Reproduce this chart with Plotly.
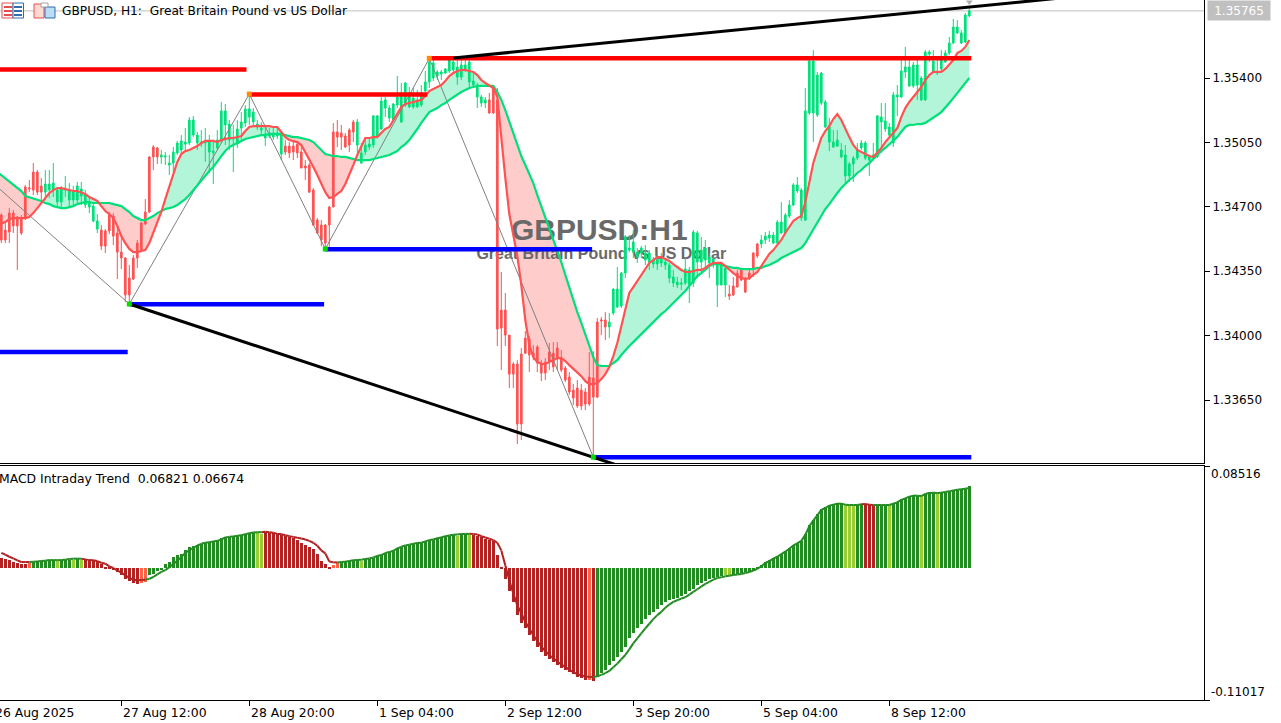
import plotly.graph_objects as go

# ---------- data: candle prices in MT5 points (1e-5), one per hourly bar ----------
body_top = [134655,134574,134666,134666,134645,134639,134808,134802,134889,134889,
134813,134824,134824,134829,134791,134802,134802,134791,134780,134813,
134797,134764,134726,134704,134623,134574,134569,134655,134650,134558,
134454,134422,134313,134422,134503,134612,134672,134971,135025,135020,
134982,134976,134938,134998,135047,135058,135052,135172,135172,135090,
135052,135052,135058,135003,135063,135221,135221,135150,135074,135123,
135161,135232,135232,135215,135150,135128,135096,135096,135096,135101,
135101,135030,135030,135030,135041,134998,134922,134927,134791,134628,
134601,134601,134699,135107,135107,135101,135085,135117,135161,135161,
134993,135036,135041,135194,135194,135275,135281,135237,135259,135297,
135319,135373,135319,135291,135281,135319,135378,135487,135482,135433,
135433,135449,135498,135487,135460,135471,135471,135487,135384,135362,
135297,135281,135281,135346,135281,134139,134139,134003,133846,133846,
133900,133987,133982,133905,133938,133851,133856,133911,133905,133933,
133878,133824,133775,133704,133715,133704,133694,133775,133770,134074,
134085,134085,134074,134253,134253,134340,134536,134476,134509,134454,
134476,134449,134449,134411,134416,134416,134400,134384,134319,134291,
134286,134362,134357,134563,134558,134465,134476,134427,134416,134395,
134395,134368,134226,134270,134340,134357,134308,134340,134449,134498,
134520,134541,134547,134547,134617,134617,134655,134710,134819,134819,
134791,135221,135492,135492,135416,135427,135270,135134,135052,135063,
135009,134982,134933,134965,135009,135047,135047,134971,134982,135194,
135188,135167,135134,135308,135308,135438,135460,135460,135471,135471,
135400,135541,135541,135492,135433,135498,135536,135590,135677,135677,
135645,135742,135765]
body_bottom = [134520,134520,134563,134596,134596,134558,134639,134797,134791,134780,
134780,134780,134791,134791,134726,134726,134791,134737,134737,134737,
134759,134710,134699,134623,134579,134487,134487,134569,134541,134454,
134422,134221,134221,134308,134422,134465,134607,134672,134971,134971,
134971,134971,134927,134938,134993,135009,135041,135047,135090,135047,
135041,135047,134998,134993,135020,135063,135145,135063,135069,135041,
135128,135156,135188,135161,135134,135117,135074,135085,135079,135085,
134987,134998,134993,134998,134993,134911,134911,134780,134601,134558,
134520,134503,134601,134699,135079,135079,135025,135036,135107,135036,
134938,134998,135025,135036,135079,135123,135237,135183,135172,135253,
135161,135253,135243,135243,135243,135253,135329,135378,135400,135411,
135422,135427,135438,135444,135405,135405,135444,135378,135362,135297,
135264,135264,135210,135210,134036,134041,134003,133791,133791,133520,
133520,133905,133895,133889,133851,133797,133797,133856,133830,133873,
133813,133759,133694,133661,133618,133618,133628,133628,133666,133666,
134079,134047,134047,134123,134155,134161,134340,134465,134454,134427,
134449,134411,134400,134389,134389,134395,134384,134313,134286,134275,
134280,134286,134275,134286,134400,134400,134411,134395,134384,134275,
134275,134275,134215,134221,134264,134302,134237,134308,134362,134433,
134498,134520,134531,134503,134503,134558,134558,134650,134710,134786,
134639,134628,135210,135210,135199,135264,135134,135052,135025,135030,
134971,134868,134868,134933,134965,135020,134965,134954,134971,134971,
135161,135123,135090,135047,135297,135297,135433,135357,135357,135362,
135281,135281,135530,135433,135427,135449,135487,135536,135590,135645,
135590,135596,135737]
high = [134666,134617,134693,134683,134650,134655,134819,134846,134938,134900,
134857,134900,134900,134938,134808,134813,134868,134829,134813,134835,
134835,134791,134748,134715,134661,134601,134580,134672,134666,134590,
134547,134427,134384,134438,134520,134617,134742,134976,135036,135025,
135009,134998,134982,135025,135058,135090,135128,135188,135194,135107,
135117,135128,135090,135063,135117,135270,135259,135172,135145,135172,
135215,135253,135313,135237,135172,135161,135145,135128,135134,135134,
135107,135063,135052,135063,135058,135030,134954,134938,134802,134639,
134628,134607,134704,135155,135172,135145,135101,135128,135172,135177,
135047,135074,135074,135199,135199,135297,135297,135253,135264,135411,
135373,135378,135351,135346,135335,135362,135438,135503,135498,135444,
135444,135454,135503,135509,135498,135498,135498,135498,135427,135373,
135308,135297,135319,135357,135346,134346,134232,134003,133856,133867,
133933,134025,133998,133949,133949,133867,133878,133960,133965,133965,
133922,133835,133802,133737,133759,133737,133715,133911,133916,134096,
134101,134128,134123,134258,134373,134346,134547,134547,134574,134476,
134487,134492,134465,134427,134438,134449,134422,134395,134357,134319,
134313,134422,134373,134574,134569,134536,134520,134449,134427,134400,
134400,134373,134275,134319,134357,134368,134319,134357,134454,134503,
134547,134563,134569,134563,134628,134726,134666,134737,134829,134862,
134802,135346,135498,135552,135433,135433,135281,135183,135117,135117,
135047,135036,134944,134976,135047,135063,135058,134982,135047,135199,
135264,135264,135156,135324,135362,135498,135569,135498,135487,135498,
135411,135552,135552,135552,135498,135552,135552,135623,135721,135715,
135661,135753,135780]
low = [134503,134503,134503,134558,134357,134547,134628,134780,134764,134764,
134737,134737,134748,134753,134693,134693,134753,134704,134710,134721,
134710,134693,134666,134617,134558,134465,134449,134552,134492,134308,
134362,134183,134172,134302,134368,134454,134601,134666,134900,134933,
134933,134927,134873,134889,134982,134982,135009,135036,135079,135009,
135025,134944,134884,134824,135009,135047,135036,135009,134889,135020,
135063,135134,135145,135139,135117,135085,135030,135074,135063,135069,
134954,134982,134965,134954,134965,134911,134846,134775,134596,134552,
134487,134471,134482,134699,135025,135009,135020,134998,135052,134993,
134933,134982,135009,135020,135074,135117,135188,135161,135161,135237,
135156,135243,135237,135232,135237,135243,135324,135346,135384,135389,
135389,135422,135427,135433,135362,135389,135433,135351,135351,135237,
135243,135237,135205,135205,133944,133813,133944,133715,133715,133411,
133433,133900,133802,133867,133802,133753,133759,133813,133802,133813,
133802,133748,133678,133623,133607,133596,133596,133618,133340,133661,
134003,133976,133987,134112,134155,134150,134313,134454,134422,134395,
134422,134384,134357,134368,134357,134373,134357,134286,134264,134259,
134248,134275,134177,134264,134313,134346,134357,134313,134368,134155,
134275,134210,134194,134215,134264,134297,134232,134302,134319,134422,
134476,134498,134509,134498,134498,134552,134552,134639,134704,134775,
134623,134623,135199,135052,135188,135253,135128,135003,135020,135025,
134965,134830,134835,134835,134954,135009,134954,134868,134954,134965,
134993,135107,135085,135025,135194,135291,135400,135351,135346,135281,
135275,135275,135487,135427,135416,135438,135482,135525,135585,135639,
135585,135590,135732]

# indicator lines on the price pane, points (first value belongs to the bar just off the left edge)
fast_line = [134600,134607,134617,134634,134639,134639,134639,134639,134645,134666,134693,
134721,134753,134775,134791,134802,134802,134797,134791,134786,134786,
134780,134770,134753,134742,134732,134704,134677,134661,134639,134596,
134541,134503,134471,134454,134454,134460,134465,134503,134558,134617,
134672,134742,134813,134884,134944,134987,135003,135009,135020,135030,
135047,135058,135058,135058,135052,135063,135069,135074,135074,135079,
135085,135112,135134,135139,135139,135139,135139,135139,135134,135134,
135107,135079,135063,135058,135052,135036,134998,134954,134916,134873,
134829,134780,134748,134753,134770,134786,134824,134873,134927,134982,
135030,135074,135074,135079,135079,135101,135123,135134,135172,135210,
135243,135259,135264,135270,135275,135281,135302,135329,135340,135351,
135362,135384,135411,135427,135438,135444,135444,135438,135433,135416,
135389,135373,135357,135346,135297,135063,134857,134661,134547,134433,
134275,134085,133949,133884,133856,133846,133846,133856,133867,133878,
133878,133862,133840,133819,133797,133780,133753,133737,133737,133743,
133764,133791,133830,133889,133960,134047,134150,134232,134264,134297,
134330,134368,134395,134411,134427,134427,134416,134406,134389,134373,
134357,134346,134346,134351,134357,134357,134368,134384,134395,134395,
134395,134378,134357,134340,134324,134313,134308,134313,134330,134346,
134378,134411,134444,134465,134492,134520,134558,134590,134623,134639,
134650,134726,134829,134938,135009,135074,135112,135139,135177,135204,
135172,135123,135079,135036,135009,134998,134987,134976,134971,134993,
135020,135052,135079,135107,135128,135188,135237,135270,135297,135319,
135351,135389,135416,135433,135433,135433,135449,135471,135498,135536,
135547,135569,135607]
slow_line = [134890,134873,134857,134840,134824,134808,134786,134759,134753,134748,134742,
134732,134721,134715,134704,134699,134693,134693,134699,134704,134715,
134721,134726,134726,134721,134721,134721,134721,134721,134715,134710,
134704,134688,134672,134650,134639,134628,134628,134639,134650,134666,
134677,134688,134693,134699,134710,134726,134742,134764,134791,134819,
134840,134868,134895,134916,134949,134976,135003,135025,135036,135047,
135058,135069,135074,135079,135085,135090,135090,135096,135096,135096,
135096,135090,135085,135079,135079,135074,135069,135063,135052,135030,
135009,134987,134982,134976,134976,134971,134971,134965,134960,134954,
134954,134954,134954,134960,134965,134971,134976,134982,134993,135003,
135025,135041,135063,135090,135123,135156,135188,135215,135226,135237,
135253,135264,135281,135297,135308,135324,135335,135346,135351,135357,
135357,135357,135357,135357,135324,135281,135226,135161,135101,135036,
134976,134927,134878,134829,134764,134704,134639,134574,134520,134465,
134400,134330,134259,134194,134128,134069,134003,133944,133884,133840,
133835,133835,133835,133851,133867,133895,133922,133944,133965,133987,
134009,134031,134052,134074,134096,134117,134134,134155,134177,134199,
134221,134243,134270,134297,134324,134340,134357,134378,134389,134389,
134384,134378,134373,134368,134368,134362,134362,134362,134362,134368,
134368,134378,134384,134395,134406,134422,134433,134444,134454,134465,
134476,134503,134541,134580,134617,134655,134688,134715,134748,134775,
134802,134824,134846,134862,134884,134900,134922,134938,134960,134982,
135003,135020,135041,135063,135079,135107,135134,135145,135145,135150,
135150,135156,135172,135183,135199,135215,135237,135264,135291,135319,
135346,135373,135400]

# candle colour follows the trend state: (state, run length)
candle_runs = [("R",11),("G",14),("R",15),("G",31),("R",18),("G",33),("R",30),("G",30),("R",8),("G",53)]

# MACD histogram and signal line, units of 1e-4
macd_hist = [86,78,64,50,42,33,33,42,53,55,
58,61,64,69,58,66,66,66,64,75,
64,72,66,64,58,33,11,8,-19,-33,
-55,-94,-111,-125,-133,-122,-116,-61,-47,-28,
-11,36,50,91,105,119,147,175,188,194,
202,211,216,222,227,249,260,263,266,271,
277,285,291,294,291,285,299,296,294,285,
277,269,260,252,238,211,194,172,161,119,
55,33,8,22,44,53,55,58,64,66,
58,72,78,86,100,111,127,133,144,166,
177,188,194,202,208,211,222,233,238,249,
255,266,271,277,266,283,285,277,277,266,
255,244,238,222,105,8,
-94,-194,-283,-393,-463,-504,-560,-609,-656,-698,
-731,-759,-781,-809,-831,-850,-864,-886,-909,-920,
-933,-933,-942,-906,-878,-850,-809,-776,-740,-698,
-656,-587,-540,-504,-471,-429,-393,-366,-338,-310,
-283,-269,-255,-249,-233,-213,-194,-172,-144,-125,
-108,-94,-83,-75,-66,-61,-61,-55,-47,-42,
-36,-30,-25,8,22,50,64,83,100,119,
139,166,194,211,227,285,360,404,452,493,
507,526,532,543,543,526,526,526,529,532,
535,526,526,526,526,526,526,543,554,576,
587,598,609,604,598,620,632,632,626,632,
637,643,654,654,659,659,682]
macd_signal = [127,111,94,80,64,50,50,50,53,55,
58,61,66,66,66,66,69,75,78,78,
78,72,66,64,58,44,36,14,0,-19,
-39,-61,-83,-97,-102,-100,-97,-91,-75,-53,
-33,-17,6,33,61,91,127,147,169,188,
202,211,216,222,227,238,255,260,263,269,
274,283,291,296,299,299,302,299,294,285,
283,274,266,260,252,247,238,227,211,186,
147,122,55,47,47,50,53,58,64,66,
69,75,80,89,100,108,125,133,144,163,
177,188,194,202,208,211,222,233,238,249,
255,266,271,277,280,283,285,285,285,280,
266,255,244,233,211,147,22,-102,-213,-310,
-379,-449,-504,-560,-609,-656,-693,-726,-753,-781,
-803,-825,-848,-870,-886,-897,-903,-909,-909,-903,
-892,-878,-859,-828,-798,-762,-726,-679,-629,-587,
-546,-504,-465,-427,-393,-366,-332,-305,-283,-269,
-255,-244,-222,-199,-177,-155,-133,-116,-97,-83,
-78,-69,-64,-58,-55,-50,-42,-33,-22,-6,
14,42,58,78,94,116,136,161,188,205,
227,277,349,396,440,485,501,521,529,537,
537,529,526,526,526,532,535,529,526,526,
526,526,526,537,548,568,582,596,604,604,
601,618,626,629,626,629,634,640,648,654,
657,662,667]
# histogram colour state per bar: (state, run length)
macd_runs = [("R",7),("T",1),("G",6),("Y",1),("G",3),("Y",1),("G",1),("Y",1),("R",14),("T",2),
("G",27),("Y",2),("R",17),("T",2),("G",5),("Y",1),("G",23),("Y",1),("G",2),("Y",1),
("R",29),("T",1),("R",1),("G",32),("Y",2),("G",28),("Y",3),("G",2),("R",3),("G",3),
("Y",1),("G",7),("Y",1),("G",3),("Y",1),("G",8)]

# support / resistance segments: bar index from, bar index to, price in points
res_from = [-1, 62, 107]
res_to = [61.3, 106.5, 242.5]
res_price = [135447, 135311, 135507]
sup_from = [-1, 32, 81, 148]
sup_to = [31.6, 80.7, 147.7, 242.5]
sup_price = [133911, 134170, 134469, 133339]
zigzag_bar = [-1, 32, 62, 81, 107, 148]
zigzag_price = [134808, 134172, 135313, 134471, 135507, 133340]
trend_low_bar = [32, 160]
trend_low_price = [134172, 133253]
trend_high_bar = [113, 270]
trend_high_price = [135509, 135846]

last_price = 1.35765
price_ticks = [1.354, 1.3505, 1.347, 1.3435, 1.34, 1.3365]
price_labels = ["1.35400", "1.35050", "1.34700", "1.34350", "1.34000", "1.33650"]
macd_max, macd_min = 0.08516, -0.11017
price_range = [1.33308, 1.35824]
time_bars = [-2, 30, 62, 94, 126, 158, 190, 222]
time_labels = ["26 Aug 2025", "27 Aug 12:00", "28 Aug 20:00", "1 Sep 04:00", "2 Sep 12:00",
               "3 Sep 20:00", "5 Sep 04:00", "8 Sep 12:00"]

# ---------- build ----------
FONT = "DejaVu Sans"
GREEN, RED = "#00E07A", "#FF5252"
LIGHT_GREEN, LIGHT_RED = "#B2F5D8", "#FFCCCC"
PW, PH = 1204, 700
xr = [-0.325, 300.675]

def pr(a):
    return [v / 1e5 for v in a]

def expand(runs):
    return [s for s, n in runs for _ in range(n)]

n = len(body_top)
bars = list(range(n))
line_bars = [-1] + bars
trend = expand(candle_runs)
hist_state = expand(macd_runs)
fast, slow = pr(fast_line), pr(slow_line)

fig = go.Figure()

# cloud between the two lines as below-trace shapes, so candles sit on top
shapes = []
def add_zone(xa, ya, yb, color):
    pts = [f"{x},{y}" for x, y in zip(xa, ya)] + [f"{x},{y}" for x, y in zip(reversed(xa), reversed(yb))]
    shapes.append(dict(type="path", path="M" + "L".join(pts) + "Z", xref="x", yref="y",
                       fillcolor=color, line=dict(width=0), layer="below"))

run_x, run_f, run_s = [], [], []
m = len(line_bars)
for k in range(m):
    run_x.append(line_bars[k]); run_f.append(fast[k]); run_s.append(slow[k])
    d = fast[k] - slow[k] + 1e-7
    if k == m - 1:
        add_zone(run_x, run_f, run_s, LIGHT_GREEN if d > 0 else LIGHT_RED)
        break
    d2 = fast[k + 1] - slow[k + 1] + 1e-7
    if d * d2 < 0:
        t = d / (d - d2)
        xc = line_bars[k] + t
        yc = fast[k] + (fast[k + 1] - fast[k]) * t
        run_x.append(xc); run_f.append(yc); run_s.append(yc)
        add_zone(run_x, run_f, run_s, LIGHT_GREEN if d > 0 else LIGHT_RED)
        run_x, run_f, run_s = [xc], [yc], [yc]

# candles, split by trend colour
for state, color in (("R", RED), ("G", GREEN)):
    idx = [i for i in bars if trend[i] == state]
    side = dict(line=dict(color=color, width=1), fillcolor=color)
    fig.add_trace(go.Candlestick(
        x=idx,
        open=[body_bottom[i] / 1e5 for i in idx], close=[body_top[i] / 1e5 for i in idx],
        high=[high[i] / 1e5 for i in idx], low=[low[i] / 1e5 for i in idx],
        increasing=side, decreasing=side, whiskerwidth=0, xaxis="x", yaxis="y", showlegend=False))

line = lambda x, y, c, w, ax="y": go.Scatter(x=x, y=y, mode="lines", line=dict(color=c, width=w),
                                             xaxis="x" if ax == "y" else "x2", yaxis=ax, showlegend=False,
                                             hoverinfo="skip")

fig.add_trace(line(zigzag_bar, pr(zigzag_price), "#808080", 1))
fig.add_trace(line(line_bars, slow, GREEN, 2.2))
fig.add_trace(line(line_bars, fast, RED, 2.2))
for a, b, p in zip(sup_from, sup_to, sup_price):
    fig.add_trace(line([a, b], [p / 1e5] * 2, "#0000FF", 4.5))
for a, b, p in zip(res_from, res_to, res_price):
    fig.add_trace(line([a, b], [p / 1e5] * 2, "#FF0000", 4.5))
fig.add_trace(line(trend_low_bar, pr(trend_low_price), "#000000", 3))
fig.add_trace(line(trend_high_bar, pr(trend_high_price), "#000000", 3))

# zigzag pivots
peak_i_high = [2, 4]
peak_i_low = [1, 3, 5]
fig.add_trace(go.Scatter(x=[zigzag_bar[i] for i in peak_i_high], y=[zigzag_price[i] / 1e5 for i in peak_i_high],
                         mode="markers", marker=dict(symbol="square", size=5, color="#FF8C00"),
                         xaxis="x", yaxis="y", showlegend=False, hoverinfo="skip"))
fig.add_trace(go.Scatter(x=[zigzag_bar[i] for i in peak_i_low], y=[zigzag_price[i] / 1e5 for i in peak_i_low],
                         mode="markers", marker=dict(symbol="square", size=5, color="#00E000"),
                         xaxis="x", yaxis="y", showlegend=False, hoverinfo="skip"))
# ask arrow at the last bar
fig.add_trace(go.Scatter(x=[n - 1], y=[1.35813], mode="markers",
                         marker=dict(symbol="triangle-down", size=6, color="#B0B0B0"),
                         xaxis="x", yaxis="y", showlegend=False, hoverinfo="skip"))

# MACD pane
hist_colors = {"R": "#B22222", "T": "#FF6347", "G": "#228B22", "Y": "#9ACD32"}
fig.add_trace(go.Bar(x=bars, y=[v / 1e4 for v in macd_hist], width=0.75,
                     marker=dict(color=[hist_colors[s] for s in hist_state], line=dict(width=0)),
                     xaxis="x2", yaxis="y2", showlegend=False, hoverinfo="skip"))
for group, color in (("RT", "#B22222"), ("GY", "#228B22")):
    xs, ys = [], []
    for i in range(n - 1):
        if hist_state[i + 1] in group:
            xs += [i, i + 1, None]
            ys += [macd_signal[i] / 1e4, macd_signal[i + 1] / 1e4, None]
    fig.add_trace(line(xs, ys, color, 2, "y2"))

# last price line, below the traces
shapes.append(dict(type="line", xref="paper", x0=0, x1=1, yref="y", y0=last_price, y1=last_price,
                   line=dict(color="#C0C0C0", width=1), layer="below"))

# watermark, below the traces
shapes.append(dict(type="rect", xref="x", yref="y", x0=119.5, x1=179.5, y0=1.34536, y1=1.34646,
                   line=dict(width=0), fillcolor="rgba(0,0,0,0)", layer="below",
                   label=dict(text="<b>GBPUSD:H1</b>", textposition="middle center",
                              font=dict(family="Liberation Sans", size=30, color="#696969"))))
shapes.append(dict(type="rect", xref="x", yref="y", x0=120, x1=180, y0=1.3441, y1=1.3451,
                   line=dict(width=0), fillcolor="rgba(0,0,0,0)", layer="below",
                   label=dict(text="<b>Great Britain Pound vs US Dollar</b>", textposition="middle center",
                              font=dict(family="Liberation Sans", size=16, color="#696969"))))

# terminal icons in the top-left corner (pixel positions on the page)
px = lambda x: x / PW
py = lambda y: 1 - y / PH
def rect(x0, y0, x1, y1, fill, edge=None):
    shapes.append(dict(type="rect", xref="paper", yref="paper", x0=px(x0), x1=px(x1), y0=py(y0), y1=py(y1),
                       fillcolor=fill, line=dict(width=1 if edge else 0, color=edge or fill), layer="above"))
rect(2, 3, 13, 18, "#FFFFFF", "#E05050")
rect(13, 3, 23.5, 18, "#FFFFFF", "#2F6FB0")
for yy in (6, 10, 14):
    rect(4, yy, 12, yy + 2, "#E05050")
    rect(14, yy, 22, yy + 2, "#2F6FB0")
rect(34, 4, 44, 18, "#FFD8D0", "#E05050")
rect(45, 7, 55, 18, "#BBDDF5", "#2F6FB0")
rect(41, 3, 48, 7, "#FFFFFF", "#A0A0A0")

annotations = []
def note(text, x, y, size=12, color="#000000", **kw):
    annotations.append(dict(text=text, xref="paper", yref="paper", x=px(x), y=py(y), xanchor="left",
                            yanchor="middle", showarrow=False,
                            font=dict(family=FONT, size=size, color=color), **kw))
note("GBPUSD, H1:&nbsp;&nbsp;Great Britain Pound vs US Dollar", 60, 11, size=12.2)
note("MACD Intraday Trend&nbsp;&nbsp;0.06821 0.06674", -3, 478, size=12.4)
note(f"{macd_max:.5f}", 1209, 474, size=12)
note(f"{macd_min:.5f}", 1209, 692, size=12)
for b, t in zip(time_bars, time_labels):
    note(t, PW * (b - xr[0]) / (xr[1] - xr[0]), 713, size=12.4)
annotations.append(dict(text=f"{last_price:.5f}", xref="paper", yref="y", x=px(1207), y=last_price,
                        xanchor="left", yanchor="middle", showarrow=False, bgcolor="#C0C0C0",
                        width=60, height=17, align="center",
                        font=dict(family=FONT, size=12, color="#FFFFFF")))

axis_common = dict(showgrid=False, zeroline=False, showline=True, linecolor="#000000", linewidth=1)
fig.update_layout(
    width=1281, height=723, autosize=False,
    margin=dict(l=0, r=77, t=0, b=23, pad=0),
    paper_bgcolor="#FFFFFF", plot_bgcolor="#FFFFFF", showlegend=False,
    boxgap=0.4, bargap=0,
    font=dict(family=FONT, size=12, color="#000000"),
    shapes=shapes, annotations=annotations,
    xaxis=dict(range=xr, domain=[0, 1], anchor="y", showticklabels=False, ticks="",
               rangeslider=dict(visible=False), **axis_common),
    xaxis2=dict(range=xr, domain=[0, 1], anchor="y2", matches="x", tickmode="array", tickvals=time_bars[1:],
                ticktext=[""] * (len(time_bars) - 1), ticks="outside", ticklen=5, tickcolor="#000000",
                mirror=True, rangeslider=dict(visible=False), **axis_common),
    yaxis=dict(domain=[237 / PH, 1], range=price_range, side="right", anchor="x", tickmode="array",
               tickvals=price_ticks, ticktext=price_labels, ticks="outside", ticklen=5, tickcolor="#000000",
               tickfont=dict(family=FONT, size=12, color="#000000"), **axis_common),
    yaxis2=dict(domain=[0, 234 / PH], range=[macd_min, macd_max], side="right", anchor="x2", tickmode="array",
                tickvals=[macd_min, macd_max], ticktext=["", ""], ticks="outside", ticklen=5, tickcolor="#000000",
                **axis_common),
)

fig.write_html("out.html", config=dict(displayModeBar=False),
               post_script="document.body.style.margin='0';document.body.style.overflow='hidden';")
